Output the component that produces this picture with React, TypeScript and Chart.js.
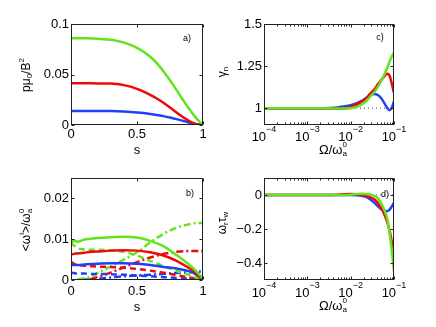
import React, { useEffect, useRef } from 'react';
import { Chart, registerables } from 'chart.js';
Chart.register(...registerables);

const FONT = '"Liberation Sans", Arial, Helvetica, sans-serif';
const GREEN = '#62e41c';
const RED = '#f00808';
const BLUE = '#2040f8';

// ---------- Panel a: pressure profiles ----------
const S_A = [0, 0.1, 0.2, 0.3, 0.35, 0.4, 0.45, 0.5, 0.55, 0.6, 0.65, 0.7, 0.75, 0.8, 0.85, 0.9, 0.95, 1];
const PA_GREEN = [0.086, 0.0859, 0.0855, 0.0843, 0.0833, 0.0816, 0.0793, 0.0764, 0.0726, 0.0676, 0.0612, 0.0533, 0.0443, 0.0345, 0.0245, 0.015, 0.0066, 0];
const PA_RED = [0.0413, 0.0413, 0.0412, 0.0411, 0.0405, 0.0395, 0.038, 0.0358, 0.0331, 0.0299, 0.0262, 0.022, 0.0173, 0.0124, 0.0077, 0.0037, 0.0009, 0];
const PA_BLUE = [0.0139, 0.0139, 0.0139, 0.0138, 0.0136, 0.0133, 0.0129, 0.0124, 0.0118, 0.011, 0.01, 0.0088, 0.0074, 0.0058, 0.0041, 0.0023, 0.0008, 0];
const XT_A = [0, 0.5, 1];
const YT_A = [0, 0.05, 0.1];

// ---------- Panel b: frequencies ----------
const S_B = [0, 0.02, 0.05, 0.1, 0.15, 0.2, 0.3, 0.4, 0.5, 0.6, 0.7, 0.8, 0.9, 0.95, 1];
const WB_GREEN_SOLID = [0.0086, 0.0097, 0.0094, 0.0099, 0.0101, 0.0103, 0.0105, 0.0106, 0.0104, 0.0096, 0.0083, 0.0061, 0.0036, 0.0021, 0.0004];
const WB_RED_SOLID = [0.0062, 0.0064, 0.0065, 0.0067, 0.0069, 0.007, 0.0072, 0.0073, 0.0072, 0.0068, 0.006, 0.0047, 0.0028, 0.0016, 0.0002];
const WB_BLUE_SOLID = [0.0036, 0.0037, 0.0037, 0.0038, 0.0039, 0.004, 0.0041, 0.0041, 0.004, 0.0037, 0.0032, 0.0028, 0.0021, 0.0013, 0.0001];
const WB_GREEN_DASH = [0.0092, 0.0085, 0.0078, 0.0075, 0.0074, 0.0074, 0.0073, 0.0069, 0.006, 0.0047, 0.0034, 0.0022, 0.0012, 0.0006, 0];
const WB_RED_DASH = [0.0045, 0.004, 0.0037, 0.0035, 0.0034, 0.0033, 0.0032, 0.003, 0.0027, 0.0023, 0.0018, 0.0012, 0.0006, 0.0003, 0];
const WB_BLUE_DASH = [0.0018, 0.0017, 0.0016, 0.0016, 0.0015, 0.0015, 0.0014, 0.0013, 0.0011, 0.0009, 0.0007, 0.0005, 0.0003, 0.0001, 0];
const WB_GREEN_DOT = [null, null, 0.0002, 0.0004, 0.0008, 0.0017, 0.0033, 0.005, 0.0068, 0.0092, 0.0113, 0.0128, 0.0137, 0.014, 0.014];
const WB_RED_DOT = [null, null, null, null, 0.0002, 0.0007, 0.0018, 0.0031, 0.0044, 0.0055, 0.0064, 0.0069, 0.0071, 0.0071, 0.0071];
const WB_BLUE_DOT = [null, null, null, 0.0001, 0.0002, 0.0003, 0.0006, 0.0009, 0.0011, 0.0013, 0.0015, 0.0017, 0.0019, 0.002, 0.0021];
const XT_B = [0, 0.5, 1];
const YT_B = [0, 0.01, 0.02];

// ---------- Panels c, d: rotation frequency scans ----------
const OMEGA = [1e-4, 2e-4, 5e-4, 1e-3, 2e-3, 3.2e-3, 5e-3, 7e-3, 1e-2, 1.4e-2, 1.8e-2, 2.2e-2, 2.8e-2, 3.5e-2, 4.2e-2, 5e-2, 6e-2, 7e-2, 8e-2, 9e-2, 1e-1];
const GC_BLUE = [1, 1, 1, 1, 1, 1.001, 1.004, 1.01, 1.018, 1.03, 1.043, 1.058, 1.075, 1.084, 1.078, 1.06, 1.03, 1.0, 0.988, 1.005, 1.042];
const GC_RED = [1, 1, 1, 1, 1, 0.998, 0.996, 0.998, 1.008, 1.022, 1.04, 1.055, 1.085, 1.11, 1.14, 1.165, 1.19, 1.205, 1.19, 1.14, 1.09];
const GC_GREEN = [1, 1, 1, 1, 1, 0.999, 0.998, 0.998, 1.0, 1.008, 1.022, 1.038, 1.068, 1.095, 1.125, 1.16, 1.2, 1.24, 1.28, 1.31, 1.33];
const GD_BLUE = [0, 0, 0, 0, 0, 0, 0, 0, 0, -0.002, -0.005, -0.01, -0.025, -0.045, -0.065, -0.082, -0.093, -0.095, -0.085, -0.065, -0.045];
const GD_RED = [0, 0, 0, 0, 0, 0, 0.002, 0.005, 0.006, 0.004, 0, -0.005, -0.012, -0.025, -0.045, -0.075, -0.115, -0.16, -0.215, -0.28, -0.32];
const GD_GREEN = [0, 0, 0, 0, 0, 0, 0, 0, 0.002, 0.006, 0.007, 0.006, 0.003, -0.005, -0.018, -0.045, -0.09, -0.14, -0.235, -0.34, -0.45];
const XT_LOG = [1e-4, 1e-3, 1e-2, 1e-1];
const YT_C = [1, 1.25, 1.5];
const YT_D = [-0.4, -0.2, 0];
const REF_C = 1;
const REF_D = 0;

type Seg = { t: string; s: number; dy?: number; adv?: boolean };
type Rich = { x: number; y: number; rot?: boolean; segs: Seg[] };

function drawRich(ctx: CanvasRenderingContext2D, r: Rich) {
  ctx.save();
  ctx.translate(r.x, r.y);
  if (r.rot) ctx.rotate(-Math.PI / 2);
  ctx.textBaseline = 'middle';
  ctx.textAlign = 'left';
  ctx.fillStyle = '#000';
  const widths = r.segs.map((sg) => {
    ctx.font = `${sg.s}px ${FONT}`;
    return ctx.measureText(sg.t).width;
  });
  const xs: number[] = [];
  let cx = 0;
  r.segs.forEach((sg, i) => {
    xs.push(cx);
    if (sg.adv !== false) cx += widths[i];
  });
  const total = Math.max(cx, ...r.segs.map((_, i) => xs[i] + widths[i]));
  r.segs.forEach((sg, i) => {
    ctx.font = `${sg.s}px ${FONT}`;
    ctx.fillText(sg.t, xs[i] - total / 2, sg.dy || 0);
  });
  ctx.restore();
}

const decor = {
  id: 'decor',
  afterDraw(chart: any, _a: any, o: any) {
    const { ctx, chartArea: a } = chart;
    const xs = chart.scales.x;
    const ys = chart.scales.y;
    ctx.save();
    ctx.strokeStyle = '#222';
    ctx.lineWidth = 1;
    const L = Math.round(a.left) + 0.5;
    const R = Math.round(a.right) - 0.5;
    const T = Math.round(a.top) + 0.5;
    const B = Math.round(a.bottom) - 0.5;
    ctx.strokeRect(L, T, R - L, B - T);
    ctx.beginPath();
    for (const v of o.xMajor) {
      const p = Math.round(xs.getPixelForValue(v)) + 0.5;
      ctx.moveTo(p, B); ctx.lineTo(p, B - 3);
      ctx.moveTo(p, T); ctx.lineTo(p, T + 3);
    }
    for (const v of o.yMajor) {
      const p = Math.round(ys.getPixelForValue(v)) + 0.5;
      ctx.moveTo(L, p); ctx.lineTo(L + 3, p);
      ctx.moveTo(R, p); ctx.lineTo(R - 3, p);
    }
    if (o.logX) {
      for (let e = -4; e < -1; e++) {
        for (let m = 2; m < 10; m++) {
          const p = Math.round(xs.getPixelForValue(m * Math.pow(10, e))) + 0.5;
          ctx.moveTo(p, B); ctx.lineTo(p, B - 2);
          ctx.moveTo(p, T); ctx.lineTo(p, T + 2);
        }
      }
    }
    ctx.stroke();
    if (o.logX) {
      for (const v of o.xMajor) {
        const p = xs.getPixelForValue(v);
        const e = Math.round(Math.log10(v));
        drawRich(ctx, {
          x: p,
          y: a.bottom + o.logLabelDy,
          segs: [
            { t: '10', s: 13 },
            { t: '\u2212' + Math.abs(e), s: 9, dy: -7 },
          ],
        });
      }
    }
    for (const t of o.texts) drawRich(ctx, t);
    ctx.restore();
  },
};

const fmt = (v: number) => String(parseFloat(Number(v).toFixed(4))).replace('-', '\u2212');

function linAxis(min: number, max: number, ticks: number[], pad: number, fit: number, isX: boolean) {
  return {
    type: 'linear',
    min,
    max,
    grid: { display: false, drawTicks: false },
    border: { display: false },
    afterBuildTicks: (s: any) => {
      s.ticks = ticks.map((v) => ({ value: v }));
    },
    afterFit: (s: any) => {
      if (isX) s.height = fit;
      else s.width = fit;
    },
    ticks: {
      padding: pad,
      color: '#000',
      font: { size: 13, family: FONT },
      callback: (v: any) => fmt(v),
      maxRotation: 0,
      autoSkip: false,
    },
  };
}

function logAxis(fit: number) {
  return {
    type: 'logarithmic',
    min: 1e-4,
    max: 1e-1,
    grid: { display: false, drawTicks: false },
    border: { display: false },
    ticks: { display: false },
    afterFit: (s: any) => {
      s.height = fit;
    },
  };
}

function pts(xv: number[], yv: (number | null)[]) {
  const out: { x: number; y: number }[] = [];
  xv.forEach((x, i) => {
    const y = yv[i];
    if (y !== null && y !== undefined) out.push({ x, y });
  });
  return out;
}

function line(data: any[], color: string, dash: number[] = [], width = 2.5) {
  return {
    data,
    borderColor: color,
    borderWidth: width,
    borderDash: dash,
    pointRadius: 0,
    fill: false,
    cubicInterpolationMode: 'monotone',
  };
}

const DASH = [6, 4];
const DASHDOT = [7, 3, 2, 3];

function baseOptions(padding: any, scales: any, decorOpts: any) {
  return {
    animation: false,
    responsive: false,
    maintainAspectRatio: false,
    layout: { padding },
    events: [],
    plugins: { legend: { display: false }, tooltip: { enabled: false }, decor: decorOpts },
    scales,
  };
}

const configA = () => ({
  type: 'line',
  data: {
    datasets: [
      line(pts(S_A, PA_GREEN), GREEN),
      line(pts(S_A, PA_RED), RED),
      line(pts(S_A, PA_BLUE), BLUE),
    ],
  },
  options: baseOptions(
    { top: 24, right: 15, left: 0, bottom: 0 },
    { x: linAxis(0, 1, XT_A, 2, 38, true), y: linAxis(0, 0.1, YT_A, 2, 71, false) },
    {
      xMajor: XT_A,
      yMajor: YT_A,
      texts: [
        { x: 27, y: 75, rot: true, segs: [{ t: 'p\u03bc', s: 12 }, { t: '0', s: 8, dy: 3 }, { t: '/B', s: 12 }, { t: '2', s: 8, dy: -5 }] },
        { x: 137, y: 150, segs: [{ t: 's', s: 13 }] },
        { x: 187, y: 39, segs: [{ t: 'a)', s: 9 }] },
      ],
    }
  ),
  plugins: [decor],
});

const configB = () => ({
  type: 'line',
  data: {
    datasets: [
      line(pts(S_B, WB_GREEN_SOLID), GREEN),
      line(pts(S_B, WB_RED_SOLID), RED),
      line(pts(S_B, WB_BLUE_SOLID), BLUE),
      line(pts(S_B, WB_GREEN_DASH), GREEN, DASH),
      line(pts(S_B, WB_RED_DASH), RED, DASH),
      line(pts(S_B, WB_BLUE_DASH), BLUE, DASH),
      line(pts(S_B, WB_GREEN_DOT), GREEN, DASHDOT),
      line(pts(S_B, WB_RED_DOT), RED, DASHDOT),
      line(pts(S_B, WB_BLUE_DOT), BLUE, DASHDOT),
    ],
  },
  options: baseOptions(
    { top: 15, right: 15, left: 0, bottom: 0 },
    { x: linAxis(0, 1, XT_B, 4, 47, true), y: linAxis(0, 0.025, YT_B, 2, 71, false) },
    {
      xMajor: XT_B,
      yMajor: YT_B,
      texts: [
        {
          x: 27, y: 67, rot: true,
          segs: [
            { t: '<\u03c9', s: 12 }, { t: 'i', s: 8, dy: -5 }, { t: '>/\u03c9', s: 12 },
            { t: '0', s: 8, dy: -5, adv: false }, { t: 'a', s: 8, dy: 3 },
          ],
        },
        { x: 137, y: 144, segs: [{ t: 's', s: 13 }] },
        { x: 190, y: 31, segs: [{ t: 'b)', s: 9 }] },
      ],
    }
  ),
  plugins: [decor],
});

const configC = () => ({
  type: 'line',
  data: {
    datasets: [
      line(pts(OMEGA, GC_GREEN), GREEN),
      line(pts(OMEGA, GC_RED), RED),
      line(pts(OMEGA, GC_BLUE), BLUE),
      line([{ x: 1e-4, y: REF_C }, { x: 1e-1, y: REF_C }], '#444', [1, 3], 1),
    ],
  },
  options: baseOptions(
    { top: 24, right: 42, left: 0, bottom: 0 },
    { x: logAxis(38), y: linAxis(0.9, 1.5, YT_C, 2, 46, false) },
    {
      xMajor: XT_LOG,
      yMajor: YT_C,
      logX: true,
      logLabelDy: 12,
      texts: [
        { x: 5, y: 72, rot: true, segs: [{ t: '\u03b3', s: 12 }, { t: 'n', s: 8, dy: 3 }] },
        { x: 115, y: 150, segs: [{ t: '\u03a9/\u03c9', s: 13 }, { t: '0', s: 8, dy: -5, adv: false }, { t: 'a', s: 8, dy: 4 }] },
        { x: 162, y: 38, segs: [{ t: 'c)', s: 9 }] },
      ],
    }
  ),
  plugins: [decor],
});

const configD = () => ({
  type: 'line',
  data: {
    datasets: [
      line(pts(OMEGA, GD_GREEN), GREEN),
      line(pts(OMEGA, GD_RED), RED),
      line(pts(OMEGA, GD_BLUE), BLUE),
      line([{ x: 1e-4, y: REF_D }, { x: 1e-1, y: REF_D }], '#444', [1, 3], 1),
    ],
  },
  options: baseOptions(
    { top: 15, right: 42, left: 0, bottom: 0 },
    { x: logAxis(47), y: linAxis(-0.5, 0.1, YT_D, 2, 46, false) },
    {
      xMajor: XT_LOG,
      yMajor: YT_D,
      logX: true,
      logLabelDy: 13,
      texts: [
        {
          x: 5, y: 60, rot: true,
          segs: [{ t: '\u03c9', s: 12 }, { t: 'r', s: 8, dy: 3 }, { t: '\u03c4', s: 12 }, { t: 'w', s: 8, dy: 3 }],
        },
        { x: 115, y: 143, segs: [{ t: '\u03a9/\u03c9', s: 13 }, { t: '0', s: 8, dy: -5, adv: false }, { t: 'a', s: 8, dy: 4 }] },
        { x: 167, y: 32, segs: [{ t: 'd)', s: 9 }] },
      ],
    }
  ),
  plugins: [decor],
});

function Panel(props: { left: number; top: number; width: number; height: number; config: () => any }) {
  const ref = useRef<HTMLCanvasElement>(null);
  useEffect(() => {
    const chart = new Chart(ref.current as HTMLCanvasElement, props.config());
    return () => chart.destroy();
  }, []);
  return (
    <canvas
      ref={ref}
      width={props.width}
      height={props.height}
      style={{ position: 'absolute', left: props.left, top: props.top, width: props.width, height: props.height }}
    />
  );
}

export default function App() {
  return (
    <div style={{ position: 'fixed', left: 0, top: 0, width: 436, height: 327, background: '#fff', overflow: 'hidden' }}>
      <Panel left={0} top={0} width={218} height={163} config={configA} />
      <Panel left={218} top={0} width={218} height={163} config={configC} />
      <Panel left={0} top={163} width={218} height={164} config={configB} />
      <Panel left={218} top={163} width={218} height={164} config={configD} />
    </div>
  );
}
